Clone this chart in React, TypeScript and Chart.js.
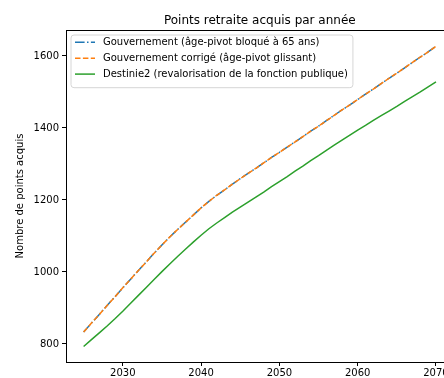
import React, { useEffect, useRef } from 'react';
import { Chart, registerables } from 'chart.js';

Chart.register(...registerables);

const years = [
  2025, 2026, 2027, 2028, 2029, 2030, 2031, 2032, 2033, 2034,
  2035, 2036, 2037, 2038, 2039, 2040, 2041, 2042, 2043, 2044,
  2045, 2046, 2047, 2048, 2049, 2050, 2051, 2052, 2053, 2054,
  2055, 2056, 2057, 2058, 2059, 2060, 2061, 2062, 2063, 2064,
  2065, 2066, 2067, 2068, 2069, 2070,
];

const gouvernement = [
  833, 858, 882, 907, 931, 956, 980, 1004, 1028, 1052,
  1075, 1097, 1118, 1138, 1158, 1178, 1196, 1213, 1228, 1244,
  1259, 1274, 1288, 1303, 1318, 1332, 1347, 1361, 1376, 1391,
  1405, 1420, 1435, 1450, 1464, 1479, 1494, 1508, 1523, 1538,
  1552, 1567, 1582, 1597, 1611, 1627,
];

const gouvernementCorrige = [
  833, 858, 882, 907, 931, 956, 980, 1004, 1028, 1052,
  1075, 1097, 1118, 1138, 1158, 1178, 1196, 1213, 1228, 1244,
  1259, 1274, 1288, 1303, 1318, 1332, 1347, 1361, 1376, 1391,
  1405, 1420, 1435, 1450, 1464, 1479, 1494, 1508, 1523, 1538,
  1552, 1567, 1582, 1597, 1611, 1627,
];

const destinie2 = [
  793, 812, 831, 850, 870, 891, 913, 935, 957, 979,
  1001, 1022, 1043, 1063, 1083, 1102, 1120, 1136, 1151, 1166,
  1180, 1194, 1208, 1222, 1237, 1251, 1265, 1280, 1294, 1309,
  1323, 1338, 1352, 1366, 1380, 1394, 1407, 1421, 1434, 1447,
  1460, 1474, 1487, 1500, 1514, 1528,
];

const xTicks = [2030, 2040, 2050, 2060, 2070];
const yTicks = [800, 1000, 1200, 1400, 1600];

const seriesLabels = [
  'Gouvernement (âge-pivot bloqué à 65 ans)',
  'Gouvernement corrigé (âge-pivot glissant)',
  'Destinie2 (revalorisation de la fonction publique)',
];
const chartTitle = 'Points retraite acquis par année';
const yAxisTitle = 'Nombre de points acquis';

const FONT = 'DejaVu Sans';

const toPoints = (vals: number[]) => years.map((y, i) => ({ x: y, y: vals[i] }));

const framePlugin = {
  id: 'mplFrame',
  afterDraw(chart: any) {
    const { ctx, chartArea } = chart;
    ctx.save();
    // frame
    ctx.strokeStyle = '#000';
    ctx.lineWidth = 1;
    ctx.strokeRect(
      Math.round(chartArea.left) + 0.5,
      Math.round(chartArea.top) + 0.5,
      chartArea.right - chartArea.left,
      chartArea.bottom - chartArea.top
    );
    // title
    ctx.fillStyle = '#000';
    ctx.font = `12px "${FONT}"`;
    ctx.textAlign = 'center';
    ctx.textBaseline = 'alphabetic';
    ctx.fillText(chartTitle, (chartArea.left + chartArea.right) / 2, 24);

    // legend
    ctx.font = `10px "${FONT}"`;
    const ds = chart.data.datasets;
    let maxW = 0;
    ds.forEach((d: any) => {
      maxW = Math.max(maxW, ctx.measureText(d.label).width);
    });
    const bx = chartArea.left + 5;
    const by = chartArea.top + 5;
    const lineX0 = bx + 4;
    const lineX1 = lineX0 + 20;
    const textX = lineX1 + 8;
    const bw = textX - bx + maxW + 5;
    const rowH = 15.9;
    const bh = 4 + rowH * ds.length + 1;
    const r = 3;
    ctx.beginPath();
    ctx.moveTo(bx + r, by);
    ctx.lineTo(bx + bw - r, by);
    ctx.arcTo(bx + bw, by, bx + bw, by + r, r);
    ctx.lineTo(bx + bw, by + bh - r);
    ctx.arcTo(bx + bw, by + bh, bx + bw - r, by + bh, r);
    ctx.lineTo(bx + r, by + bh);
    ctx.arcTo(bx, by + bh, bx, by + bh - r, r);
    ctx.lineTo(bx, by + r);
    ctx.arcTo(bx, by, bx + r, by, r);
    ctx.closePath();
    ctx.fillStyle = 'rgba(255,255,255,0.8)';
    ctx.fill();
    ctx.strokeStyle = '#d6d6d6';
    ctx.lineWidth = 1;
    ctx.stroke();

    ds.forEach((d: any, i: number) => {
      const cy = by + 7.3 + i * rowH;
      ctx.beginPath();
      ctx.setLineDash(d.borderDash || []);
      ctx.strokeStyle = d.borderColor;
      ctx.lineWidth = d.borderWidth;
      ctx.moveTo(lineX0, cy);
      ctx.lineTo(lineX1, cy);
      ctx.stroke();
      ctx.setLineDash([]);
      ctx.fillStyle = '#000';
      ctx.textAlign = 'left';
      ctx.textBaseline = 'middle';
      ctx.fillText(d.label, textX, cy);
    });
    ctx.restore();
  },
};

export default function App() {
  const canvasRef = useRef<HTMLCanvasElement | null>(null);

  useEffect(() => {
    if (!canvasRef.current) return;
    const tickFont = { family: FONT, size: 10 };
    const chart = new Chart(canvasRef.current, {
      type: 'line',
      data: {
        datasets: [
          {
            label: seriesLabels[0],
            data: toPoints(gouvernement),
            borderColor: '#1f77b4',
            backgroundColor: '#1f77b4',
            borderWidth: 1.5,
            borderDash: [9.6, 2.4, 1.5, 2.4],
            order: 2,
          },
          {
            label: seriesLabels[1],
            data: toPoints(gouvernementCorrige),
            borderColor: '#ff7f0e',
            backgroundColor: '#ff7f0e',
            borderWidth: 1.5,
            borderDash: [5.5, 2.4],
            order: 1,
          },
          {
            label: seriesLabels[2],
            data: toPoints(destinie2),
            borderColor: '#2ca02c',
            backgroundColor: '#2ca02c',
            borderWidth: 1.5,
            order: 3,
          },
        ],
      },
      options: {
        animation: false,
        responsive: false,
        devicePixelRatio: 1,
        parsing: false as any,
        layout: { padding: { left: 0, top: 30, right: 6.4, bottom: 0 } },
        elements: { point: { radius: 0 }, line: { tension: 0, fill: false } },
        plugins: {
          legend: { display: false },
          title: { display: false },
          tooltip: { enabled: false },
        },
        scales: {
          x: {
            type: 'linear',
            min: 2022.75,
            max: 2072.25,
            afterBuildTicks: (s: any) => {
              s.ticks = xTicks.map((v) => ({ value: v }));
            },
            afterFit: (s: any) => {
              s.height = 16;
            },
            grid: {
              display: true,
              drawOnChartArea: false,
              drawTicks: true,
              tickLength: 4,
              color: '#000',
              lineWidth: 1,
            },
            border: { display: true, color: '#000', width: 1 },
            ticks: {
              color: '#000',
              font: tickFont,
              padding: 1,
              maxRotation: 0,
              autoSkip: false,
              callback: (v: any) => String(v),
            },
          },
          y: {
            type: 'linear',
            min: 750,
            max: 1672,
            afterBuildTicks: (s: any) => {
              s.ticks = yTicks.map((v) => ({ value: v }));
            },
            afterFit: (s: any) => {
              s.width = 66;
            },
            grid: {
              display: true,
              drawOnChartArea: false,
              drawTicks: true,
              tickLength: 4,
              color: '#000',
              lineWidth: 1,
            },
            border: { display: true, color: '#000', width: 1 },
            ticks: {
              color: '#000',
              font: tickFont,
              padding: 3,
              autoSkip: false,
              callback: (v: any) => String(v),
            },
            title: {
              display: true,
              text: yAxisTitle,
              color: '#000',
              font: tickFont,
              padding: { top: 14, bottom: 0 },
            },
          },
        },
      },
      plugins: [framePlugin],
    });
    return () => chart.destroy();
  }, []);

  return (
    <div
      style={{
        position: 'fixed',
        left: 0,
        top: 0,
        width: 444,
        height: 378,
        overflow: 'hidden',
        background: '#fff',
      }}
    >
      <canvas ref={canvasRef} width={460} height={378} style={{ width: 460, height: 378, display: 'block' }} />
    </div>
  );
}
